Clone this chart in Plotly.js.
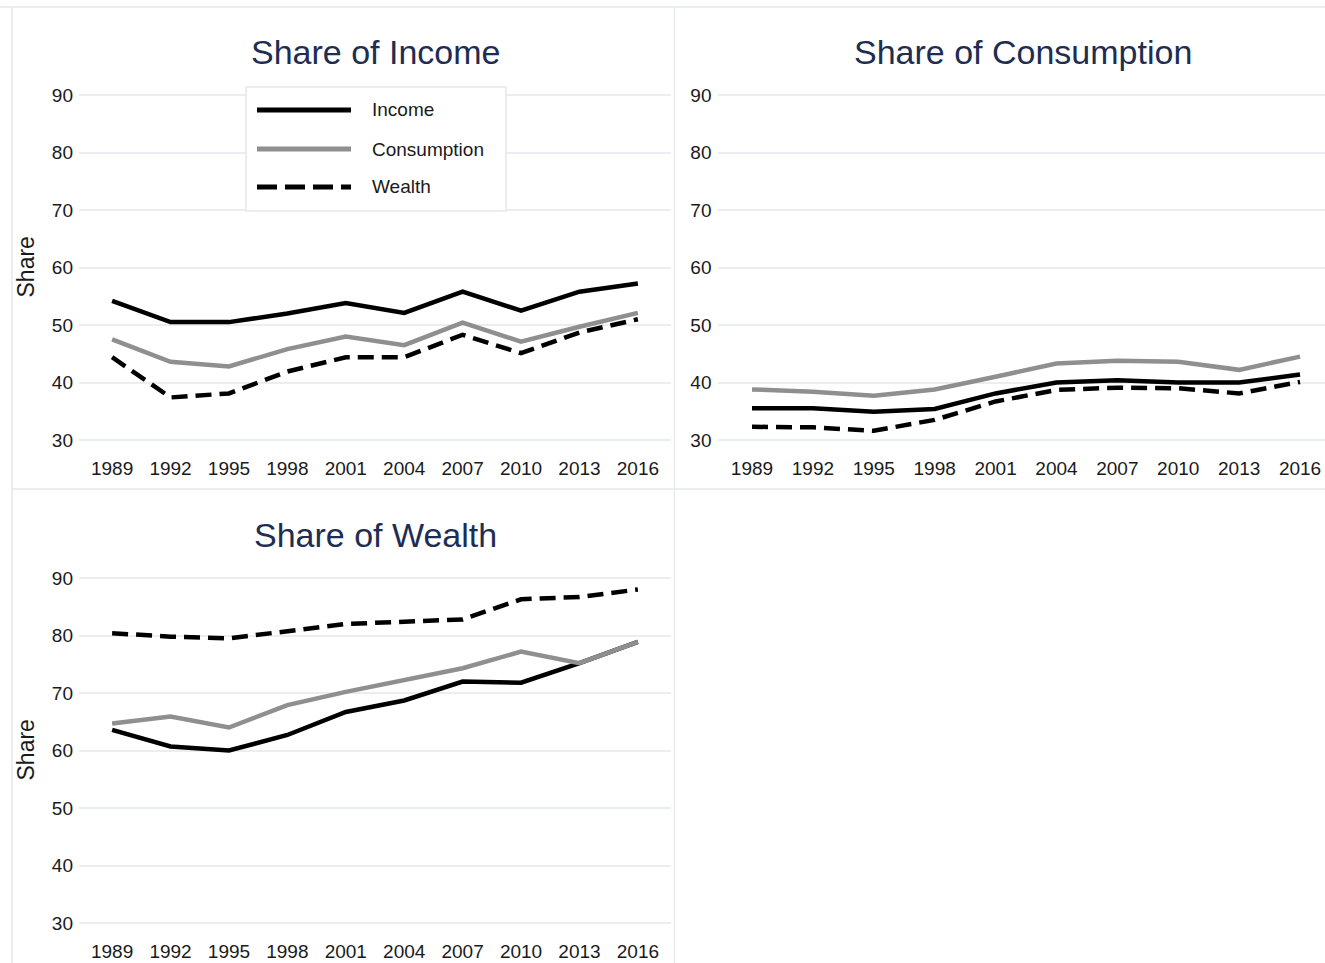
<!DOCTYPE html>
<html>
<head>
<meta charset="utf-8">
<script src="https://cdn.plot.ly/plotly-3.0.1.min.js"></script>
<style>
  html, body { margin: 0; padding: 0; background: #ffffff; overflow: hidden; }
  #chart { width: 1325px; height: 963px; }
</style>
</head>
<body>
<div id="chart"></div>
<script>
// ---- data ----
const years = [1989, 1992, 1995, 1998, 2001, 2004, 2007, 2010, 2013, 2016];
const yTicks = [30, 40, 50, 60, 70, 80, 90];
const seriesNames = ["Income", "Consumption", "Wealth"];
const panelTitles = ["Share of Income", "Share of Consumption", "Share of Wealth"];
const yAxisLabel = "Share";

// Panel: Share of Income
const incomePanelIncome      = [54.2, 50.5, 50.5, 52.0, 53.8, 52.1, 55.8, 52.5, 55.8, 57.2];
const incomePanelConsumption = [47.5, 43.6, 42.8, 45.8, 48.0, 46.5, 50.4, 47.1, 49.7, 52.1];
const incomePanelWealth      = [44.4, 37.4, 38.1, 41.9, 44.4, 44.4, 48.3, 45.1, 48.7, 51.0];
// Panel: Share of Consumption
const consPanelIncome        = [35.5, 35.5, 34.9, 35.4, 38.1, 40.0, 40.4, 40.0, 40.0, 41.4];
const consPanelConsumption   = [38.8, 38.4, 37.7, 38.8, 41.0, 43.3, 43.8, 43.6, 42.2, 44.5];
const consPanelWealth        = [32.3, 32.2, 31.6, 33.5, 36.7, 38.7, 39.1, 39.0, 38.1, 40.1];
// Panel: Share of Wealth
const wealthPanelIncome      = [63.6, 60.7, 60.0, 62.7, 66.7, 68.7, 72.0, 71.8, 75.2, 78.9];
const wealthPanelConsumption = [64.7, 65.9, 64.0, 67.9, 70.2, 72.3, 74.3, 77.2, 75.2, 78.9];
const wealthPanelWealth      = [80.4, 79.8, 79.5, 80.7, 82.0, 82.4, 82.8, 86.3, 86.7, 88.0];

// ---- styles ----
const W = 1325, H = 963;
const FONT = "Liberation Sans, Arial, sans-serif";
const styles = {
  Income:      {color: "#000000", width: 4.5, dash: "solid"},
  Consumption: {color: "#8f8f8f", width: 4.5, dash: "solid"},
  Wealth:      {color: "#000000", width: 4.5, dash: "16px,8px"}
};
const gridColor = "#e9eef2";
const borderColor = "#e4e9ed";
const titleColor = "#1e2d52";
const textColor = "#1a1a1a";

const panels = [
  {xa: "x",  ya: "y",  data: [incomePanelIncome, incomePanelConsumption, incomePanelWealth]},
  {xa: "x2", ya: "y2", data: [consPanelIncome, consPanelConsumption, consPanelWealth]},
  {xa: "x3", ya: "y3", data: [wealthPanelIncome, wealthPanelConsumption, wealthPanelWealth]}
];

const traces = [];
panels.forEach(p => {
  seriesNames.forEach((name, i) => {
    const s = styles[name];
    traces.push({
      type: "scatter", mode: "lines", name: name,
      x: years, y: p.data[i], xaxis: p.xa, yaxis: p.ya,
      line: {color: s.color, width: s.width, dash: s.dash},
      showlegend: false, hoverinfo: "x+y+name"
    });
  });
});

function px(x) { return x / W; }
function py(y) { return 1 - y / H; }

const xCommon = {
  tickmode: "array", tickvals: years, ticktext: years.map(String),
  showgrid: false, zeroline: false, showline: false,
  ticks: "", ticklabelstandoff: 3,
  tickfont: {family: FONT, size: 19, color: textColor}
};
const yCommon = {
  range: [28, 92], tickmode: "array", tickvals: yTicks, ticktext: yTicks.map(String),
  showgrid: true, gridcolor: gridColor, gridwidth: 2, zeroline: false, showline: false,
  ticks: "", ticklabelstandoff: 5,
  tickfont: {family: FONT, size: 19, color: textColor}
};

const topDom = [py(451.5), py(83.5)];
const botDom = [py(934.5), py(566.5)];

const layout = {
  width: W, height: H,
  margin: {l: 0, r: 0, t: 0, b: 0},
  paper_bgcolor: "#ffffff", plot_bgcolor: "#ffffff",
  showlegend: false,
  font: {family: FONT, color: textColor},
  xaxis:  Object.assign({}, xCommon, {domain: [px(79), px(671)], range: [1987.3, 2017.7], anchor: "y"}),
  yaxis:  Object.assign({}, yCommon, {domain: topDom, anchor: "x"}),
  xaxis2: Object.assign({}, xCommon, {domain: [px(717.5), 1], range: [1987.3, 2017.23], anchor: "y2"}),
  yaxis2: Object.assign({}, yCommon, {domain: topDom, anchor: "x2"}),
  xaxis3: Object.assign({}, xCommon, {domain: [px(79), px(671)], range: [1987.3, 2017.7], anchor: "y3"}),
  yaxis3: Object.assign({}, yCommon, {domain: botDom, anchor: "x3"}),
  shapes: [],
  annotations: []
};

// panel borders
const lineShape = (x0, y0, x1, y1) => ({type: "line", xref: "paper", yref: "paper",
  x0: px(x0), y0: py(y0), x1: px(x1), y1: py(y1), line: {color: borderColor, width: 1.5}, layer: "below"});
layout.shapes.push(lineShape(0, 7, 1325, 7));
layout.shapes.push(lineShape(12, 7, 12, 963));
layout.shapes.push(lineShape(674.5, 7, 674.5, 963));
layout.shapes.push(lineShape(12, 489, 1325, 489));

// titles
const titlePos = [[375, 52], [1023, 52], [375, 535]];
panelTitles.forEach((t, i) => {
  layout.annotations.push({text: t, xref: "paper", yref: "paper",
    x: px(titlePos[i][0]), y: py(titlePos[i][1]), xanchor: "center", yanchor: "middle",
    showarrow: false, font: {family: FONT, size: 34, color: titleColor}});
});
// y axis labels
[[25, 267.5], [25, 750.5]].forEach(p => {
  layout.annotations.push({text: yAxisLabel, xref: "paper", yref: "paper",
    x: px(p[0]), y: py(p[1]), xanchor: "center", yanchor: "middle", textangle: -90,
    showarrow: false, font: {family: FONT, size: 23, color: textColor}});
});

// custom legend (box, line samples, labels)
layout.shapes.push({type: "rect", xref: "paper", yref: "paper",
  x0: px(246), y0: py(87), x1: px(506), y1: py(211),
  line: {color: borderColor, width: 1.5}, fillcolor: "#ffffff", layer: "above"});
const legY = [110, 149, 187];
seriesNames.forEach((name, i) => {
  const s = styles[name];
  layout.shapes.push({type: "line", xref: "paper", yref: "paper",
    x0: px(257), x1: px(351), y0: py(legY[i]), y1: py(legY[i]),
    line: {color: s.color, width: 5, dash: name === "Wealth" ? "20px,8px" : "solid"}, layer: "above"});
  layout.annotations.push({text: name, xref: "paper", yref: "paper",
    x: px(370), y: py(legY[i]), xanchor: "left", yanchor: "middle",
    showarrow: false, font: {family: FONT, size: 19, color: textColor}});
});

Plotly.newPlot("chart", traces, layout, {displayModeBar: false, staticPlot: true});
</script>
</body>
</html>
